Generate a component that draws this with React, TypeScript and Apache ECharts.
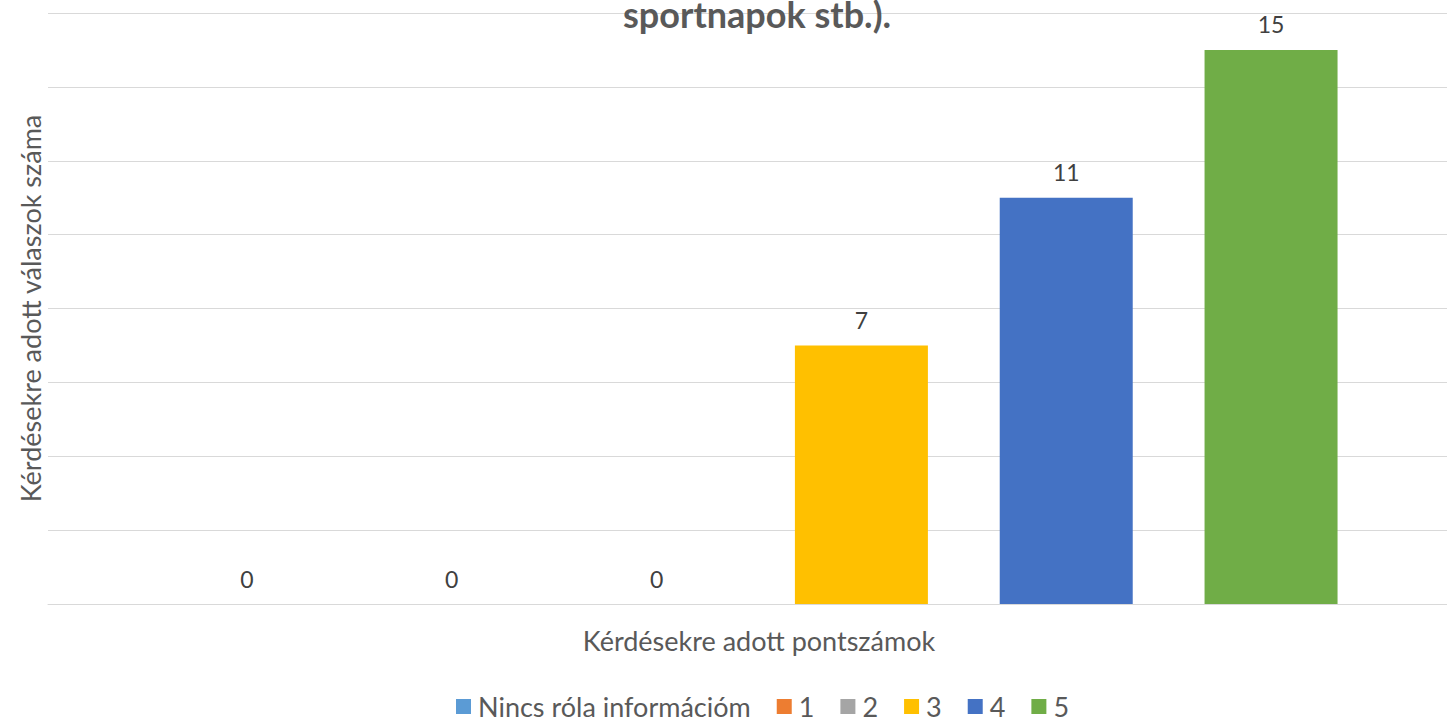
import React, { useEffect, useRef } from "react";
import * as echarts from "echarts";

const categories = [""];
const seriesNames = ["Nincs róla információm", "1", "2", "3", "4", "5"];
const seriesValues = [0, 0, 0, 7, 11, 15];
const seriesColors = ["#5B9BD5", "#ED7D31", "#A5A5A5", "#FFC000", "#4472C4", "#70AD47"];
const titleText = "sportnapok stb.).";
const yAxisName = "Kérdésekre adott válaszok száma";
const xAxisName = "Kérdésekre adott pontszámok";

const FONT = "Lato, 'Open Sans', sans-serif";

export default function App() {
  const ref = useRef<HTMLDivElement>(null);
  useEffect(() => {
    if (!ref.current) return;
    const chart = echarts.init(ref.current, undefined, { renderer: "svg" });
    chart.setOption({
      animation: false,
      backgroundColor: "#ffffff",
      title: {
        text: titleText,
        left: 618,
        top: -9,
        textStyle: { fontFamily: FONT, fontSize: 36, fontWeight: "bold", color: "#595959" },
      },
      legend: {
        bottom: 0,
        left: 451,
        itemWidth: 15,
        itemHeight: 15,
        itemGap: 26,
        icon: "rect",
        textStyle: { fontFamily: FONT, fontSize: 27, color: "#595959", padding: [0, 0, 0, 2] },
        data: seriesNames,
      },
      grid: { left: 48, right: 0, top: 13, bottom: 121, containLabel: false },
      xAxis: {
        type: "category",
        data: categories,
        name: xAxisName,
        nameLocation: "middle",
        nameGap: 23,
        nameTextStyle: { fontFamily: FONT, fontSize: 27, color: "#595959" },
        axisLine: { show: true, lineStyle: { color: "#D9D9D9", width: 1 } },
        axisTick: { show: false },
        axisLabel: { show: false },
      },
      yAxis: {
        type: "value",
        min: 0,
        max: 16,
        interval: 2,
        name: yAxisName,
        nameLocation: "middle",
        nameGap: 4,
        nameTextStyle: { fontFamily: FONT, fontSize: 27, color: "#595959" },
        axisLine: { show: false },
        axisTick: { show: false },
        axisLabel: { show: false },
        splitLine: { lineStyle: { color: "#D9D9D9", width: 1 } },
      },
      series: seriesNames.map((name, i) => ({
        name,
        type: "bar",
        data: [seriesValues[i]],
        barWidth: 133,
        barGap: "54%",
        itemStyle: { color: seriesColors[i] },
        label: {
          show: true,
          position: "top",
          distance: 14,
          fontFamily: FONT,
          fontSize: 23,
          color: "#404040",
        },
      })),
    });
    return () => chart.dispose();
  }, []);
  return (
    <div
      ref={ref}
      style={{ position: "fixed", left: 0, top: 0, width: 1470, height: 725 }}
    />
  );
}
